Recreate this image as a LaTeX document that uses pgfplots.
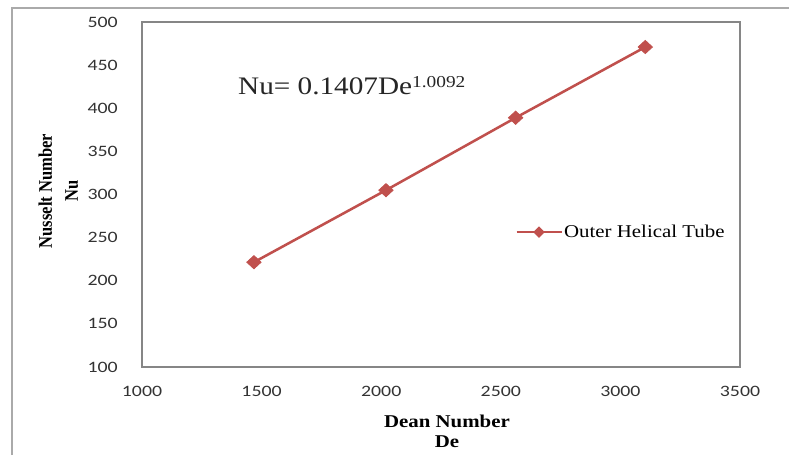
\documentclass[border=0pt]{standalone}
\usepackage{fontspec}
\setmainfont{Liberation Serif}
\newfontfamily\wser[FakeStretch=1.16]{Liberation Serif}
\newfontfamily\yser[FakeStretch=0.862]{Liberation Serif}
\newfontfamily\tickf[FakeStretch=1.25]{Carlito}
\usepackage{pgfplots}
\pgfplotsset{compat=1.18}
\definecolor{exred}{RGB}{192,80,77}
\definecolor{axgray}{RGB}{134,134,134}
\begin{document}
\begin{tikzpicture}[x=1pt,y=1pt]
\useasboundingbox (0,0) rectangle (591.75,341.25);
\draw[axgray!70, line width=1pt] (9,0) -- (9,335.25) -- (591.75,335.25);
\begin{axis}[
  at={(106.5pt,66pt)}, anchor=south west,
  scale only axis, width=448.5pt, height=258.75pt,
  xmin=1000, xmax=3500, ymin=100, ymax=500,
  xtick={1000,1500,2000,2500,3000,3500},
  ytick={100,150,200,250,300,350,400,450,500},
  major tick length=0pt,
  axis line style={axgray, line width=1pt},
  /pgf/number format/assume math mode=true,
  /pgf/number format/1000 sep={},
  ticklabel style={font=\tickf\fontsize{11.9}{12}\selectfont, text=black!80, inner sep=0pt},
  xticklabel style={anchor=north, yshift=-14.25pt},
  yticklabel style={anchor=east, xshift=-18pt},
  xlabel={Dean Number\\De},
  xlabel style={at={(axis description cs:0.51,0)}, anchor=north, yshift=-36pt, inner sep=0pt, align=center, font=\wser\bfseries\fontsize{13.5}{15}\selectfont},
  ylabel={Nusselt Number\\Nu},
  ylabel style={at={(axis description cs:-0.14,0.51)}, anchor=center, inner sep=0pt, align=center, font=\yser\bfseries\fontsize{14.4}{19.5}\selectfont},
  legend style={at={(axis description cs:0.6237,0.391)}, anchor=west, draw=none, fill=none, inner sep=0pt, nodes={inner sep=1pt}, font=\wser\fontsize{13.5}{14}\selectfont},
  legend cell align=left,
  legend image code/.code={\draw[mark repeat=2, mark phase=2, #1] plot coordinates {(0pt,0pt) (16.875pt,0pt) (33.75pt,0pt)};},
  legend image post style={mark size=3pt, mark options={xscale=1.3}},
  clip=false,
]
\addplot[exred, line width=1.9pt, mark=diamond*, mark size=5pt, mark options={solid, fill=exred, xscale=1.45, line width=0.5pt}]
  coordinates {(1468,221.5) (2020,305) (2562,389) (3104,471)};
\addlegendentry{Outer Helical Tube}
\node[anchor=base west, inner sep=0pt, font=\wser\fontsize{18.9}{20}\selectfont, text=black!85] at (axis cs:1401,416.5)
  {Nu= 0.1407De{\fontsize{12.5}{13}\selectfont\raisebox{5.25pt}{1.0092}}};
\end{axis}
\end{tikzpicture}
\end{document}
